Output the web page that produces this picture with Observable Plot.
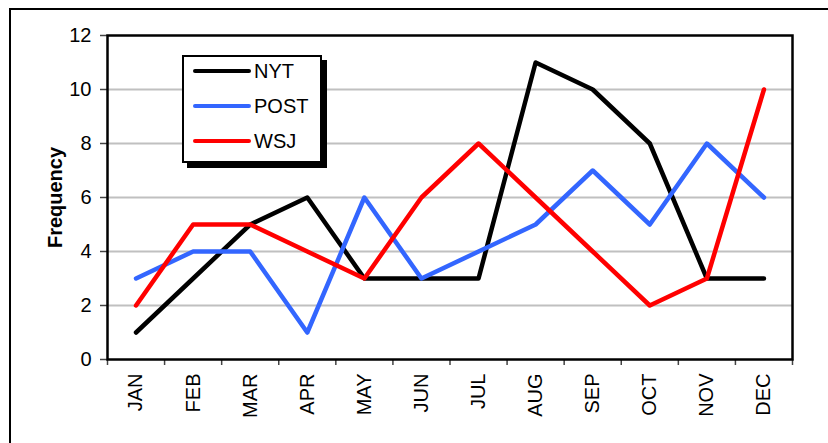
<!DOCTYPE html>
<html>
<head>
<meta charset="utf-8">
<script src="https://cdn.jsdelivr.net/npm/d3@7"></script>
<script src="https://cdn.jsdelivr.net/npm/@observablehq/plot@0.6"></script>
<style>
  html, body { margin: 0; padding: 0; background: #fff; overflow: hidden; }
  #wrap { position: relative; width: 828px; height: 443px; font-family: "Liberation Sans", Arial, sans-serif; }
  #outer { position: absolute; left: 9px; top: 8px; width: 900px; height: 500px; border: 2.5px solid #000; box-sizing: border-box; }
  #chart { position: absolute; left: 0; top: 0; }
  #legend { position: absolute; left: 182px; top: 55px; width: 140px; height: 108px; box-sizing: border-box;
            border: 2px solid #000; background: #fff; box-shadow: 5px 5px 0 #000; }
  .item { position: absolute; left: 9px; height: 24px; display: flex; align-items: center; font-size: 20px; color: #000; }
  .item svg { margin-right: 3px; }
</style>
</head>
<body>
<div id="wrap">
  <div id="outer"></div>
  <div id="chart"></div>
  <div id="legend"></div>
</div>
<script>
const months = ["JAN","FEB","MAR","APR","MAY","JUN","JUL","AUG","SEP","OCT","NOV","DEC"];
const seriesNames = ["NYT","POST","WSJ"];
const seriesColors = ["#000000","#3366ff","#ff0000"];
const nyt  = [1,3,5,6,3,3,3,11,10,8,3,3];
const post = [3,4,4,1,6,3,4,5,7,5,8,6];
const wsj  = [2,5,5,4,3,6,8,6,4,2,3,10];
const yTicks = [0,2,4,6,8,10,12];
const gridTicks = [2,4,6,8,10];
const yLabel = "Frequency";

const seriesValues = [nyt, post, wsj];
const data = [];
seriesNames.forEach((s, si) => {
  seriesValues[si].forEach((v, i) => data.push({series: s, pos: i + 0.5, month: months[i], value: v}));
});

const chart = Plot.plot({
  width: 828,
  height: 443,
  marginLeft: 107,
  marginRight: 36,
  marginTop: 35,
  marginBottom: 84,
  style: {fontFamily: "'Liberation Sans', Arial, sans-serif", fontSize: "20px", background: "transparent"},
  x: {domain: [0, months.length]},
  y: {domain: [0, 12]},
  color: {domain: seriesNames, range: seriesColors},
  marks: [
    Plot.ruleY(gridTicks, {stroke: "#c0c0c0", strokeWidth: 2}),
    Plot.line(data, {x: "pos", y: "value", z: "series", stroke: "series", strokeWidth: 4.5, strokeLinejoin: "round", strokeLinecap: "round"}),
    Plot.axisY({ticks: yTicks, tickSize: 7, tickPadding: 9, fontSize: 20, label: null, stroke: "#444", strokeWidth: 1.5}),
    Plot.axisY({ticks: [], label: yLabel, labelAnchor: "center", labelOffset: 60, fontSize: 20, fontWeight: "bold", labelArrow: "none"}),
    Plot.axisX({ticks: d3.range(months.length + 1), tickSize: 6, tickFormat: () => "", label: null, stroke: "#444", strokeWidth: 1.5}),
    Plot.axisX({ticks: d3.range(months.length).map(i => i + 0.5), tickSize: 0, tickPadding: 14, tickRotate: -90,
                tickFormat: d => months[Math.floor(d)], fontSize: 20, label: null}),
    Plot.frame({stroke: "#000", strokeWidth: 2.5})
  ]
});
document.getElementById("chart").appendChild(chart);

const legend = document.getElementById("legend");
seriesNames.forEach((s, i) => {
  const div = document.createElement("div");
  div.className = "item";
  div.style.top = (2 + i * 35) + "px";
  div.innerHTML = `<svg width="58" height="10"><line x1="2" y1="5" x2="56" y2="5" stroke="${seriesColors[i]}" stroke-width="4" stroke-linecap="round"/></svg><span>${s}</span>`;
  legend.appendChild(div);
});
</script>
</body>
</html>
